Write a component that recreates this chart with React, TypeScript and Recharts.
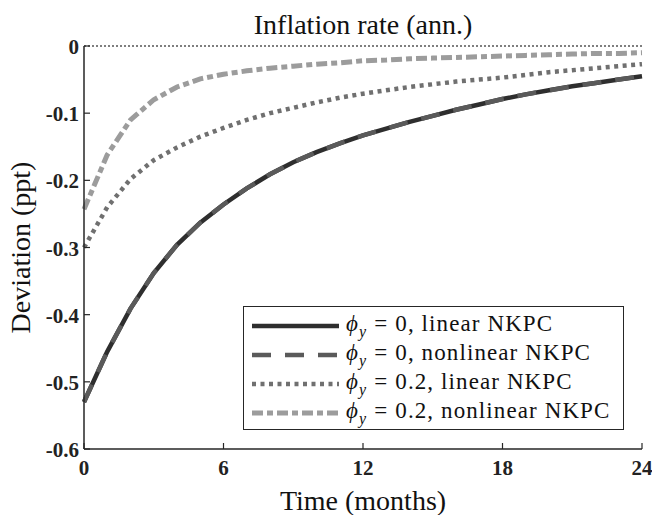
import { LineChart, Line, XAxis, YAxis, ReferenceLine, Legend, Label } from 'recharts';

// months after the shock
const months = [0, 1, 2, 3, 4, 5, 6, 7, 8, 9, 10, 11, 12, 13, 14, 15, 16, 17, 18, 19, 20, 21, 22, 23, 24];

// inflation deviation (ppt)
const phi0Linear = [
  -0.53, -0.455, -0.391, -0.338, -0.296, -0.263, -0.236, -0.212, -0.191, -0.173, -0.158, -0.145, -0.133,
  -0.123, -0.113, -0.104, -0.095, -0.087, -0.079, -0.072, -0.066, -0.06, -0.055, -0.05, -0.045,
];
const phi0Nonlinear = [
  -0.53, -0.455, -0.391, -0.338, -0.296, -0.263, -0.236, -0.212, -0.191, -0.173, -0.158, -0.145, -0.133,
  -0.123, -0.113, -0.104, -0.095, -0.087, -0.079, -0.072, -0.066, -0.06, -0.055, -0.05, -0.045,
];
const phi02Linear = [
  -0.3, -0.24, -0.198, -0.17, -0.151, -0.135, -0.122, -0.11, -0.1, -0.092, -0.084, -0.077, -0.071,
  -0.066, -0.061, -0.057, -0.053, -0.05, -0.047, -0.043, -0.039, -0.036, -0.033, -0.03, -0.027,
];
const phi02Nonlinear = [
  -0.243, -0.162, -0.11, -0.08, -0.061, -0.049, -0.042, -0.037, -0.033, -0.03, -0.027, -0.025, -0.022,
  -0.021, -0.019, -0.018, -0.017, -0.016, -0.015, -0.014, -0.013, -0.012, -0.011, -0.011, -0.01,
];

const xTicks = [0, 6, 12, 18, 24];
const yTicks = [-0.6, -0.5, -0.4, -0.3, -0.2, -0.1, 0];
const yTickLabels = ['-0.6', '-0.5', '-0.4', '-0.3', '-0.2', '-0.1', '0'];

const data = months.map((t, i) => ({
  t,
  phi0Linear: phi0Linear[i],
  phi0Nonlinear: phi0Nonlinear[i],
  phi02Linear: phi02Linear[i],
  phi02Nonlinear: phi02Nonlinear[i],
}));

const SERIF = '"Liberation Serif", "Times New Roman", serif';
const AXIS = '#262626';

// the two phi=0.2 lines are bound to the top/right axes so those axes get drawn (same domains)
const series = [
  { key: 'phi0Linear', phi: '0', kind: 'linear', color: '#2e2e2e', width: 4.5, dash: undefined, xId: 0, yId: 0 },
  { key: 'phi0Nonlinear', phi: '0', kind: 'nonlinear', color: '#5a5a5a', width: 4.5, dash: '19 14', xId: 0, yId: 0 },
  { key: 'phi02Linear', phi: '0.2', kind: 'linear', color: '#707070', width: 4.5, dash: '4 4.5', xId: 0, yId: 'right' },
  { key: 'phi02Nonlinear', phi: '0.2', kind: 'nonlinear', color: '#9c9c9c', width: 5, dash: '11 4 6 4', xId: 'top', yId: 0 },
];

const fmtY = (v: number) => yTickLabels[yTicks.findIndex((t) => Math.abs(t - v) < 1e-9)] ?? String(v);

const LeftTick = (props: any) => {
  const { x, y, payload } = props;
  return (
    <g>
      <line x1={x} x2={x + 6} y1={y} y2={y} stroke={AXIS} strokeWidth={1.2} />
      <text x={x - 5} y={y + 1} textAnchor="end" dominantBaseline="central" fontFamily={SERIF} fontWeight="bold" fontSize={21} fill="#222">
        {fmtY(payload.value)}
      </text>
    </g>
  );
};

const RightTick = (props: any) => {
  const { x, y } = props;
  return <line x1={x} x2={x - 6} y1={y} y2={y} stroke={AXIS} strokeWidth={1.2} />;
};

const BottomTick = (props: any) => {
  const { x, y, payload } = props;
  return (
    <g>
      <line x1={x} x2={x} y1={y} y2={y - 6} stroke={AXIS} strokeWidth={1.2} />
      <text x={x} y={y + 19} textAnchor="middle" dominantBaseline="central" fontFamily={SERIF} fontWeight="bold" fontSize={21} fill="#222">
        {payload.value}
      </text>
    </g>
  );
};

const TopTick = (props: any) => {
  const { x, y } = props;
  return <line x1={x} x2={x} y1={y} y2={y + 6} stroke={AXIS} strokeWidth={1.2} />;
};

const renderLegend = () => (
  <div
    style={{
      boxSizing: 'border-box',
      width: '100%',
      height: '100%',
      border: `1.5px solid ${AXIS}`,
      background: '#fff',
      padding: '4px 0 0 8px',
      fontFamily: SERIF,
      fontSize: 23,
      letterSpacing: 1.1,
      color: '#111',
    }}
  >
    {series.map((s) => (
      <div key={s.key} style={{ display: 'flex', alignItems: 'center', height: 29 }}>
        <svg width={88} height={10} style={{ flex: 'none' }}>
          <line x1={0} x2={87} y1={5} y2={5} stroke={s.color} strokeWidth={s.width} strokeDasharray={s.dash} />
        </svg>
        <span style={{ marginLeft: 6, whiteSpace: 'nowrap' }}>
          <i>ϕ</i>
          <sub style={{ fontSize: 16 }}>
            <i>y</i>
          </sub>
          <span style={{ margin: '0 7px' }}>=</span>
          {s.phi}, {s.kind} NKPC
        </span>
      </div>
    ))}
  </div>
);

export default function App() {
  return (
    <div style={{ position: 'absolute', left: 0, top: 0, background: '#fff' }}>
      <LineChart width={652} height={515} data={data} margin={{ top: 46, right: 10, left: 0, bottom: 0 }}>
        <XAxis
          dataKey="t"
          type="number"
          domain={[0, 24]}
          ticks={xTicks}
          height={66}
          tickSize={0}
          tickMargin={0}
          tickLine={false}
          tick={<BottomTick />}
          axisLine={{ stroke: AXIS, strokeWidth: 1.5 }}
        >
          <Label value="Time (months)" position="center" dy={18} fontFamily={SERIF} fontSize={28} fill="#111" />
        </XAxis>
        <XAxis
          xAxisId="top"
          orientation="top"
          dataKey="t"
          type="number"
          domain={[0, 24]}
          ticks={xTicks}
          height={0}
          tickSize={0}
          tickMargin={0}
          tickLine={false}
          tick={<TopTick />}
          axisLine={false}
        />
        <YAxis
          type="number"
          domain={[-0.6, 0]}
          ticks={yTicks}
          width={84}
          tickSize={0}
          tickMargin={0}
          tickLine={false}
          tick={<LeftTick />}
          axisLine={{ stroke: AXIS, strokeWidth: 1.5 }}
        >
          <Label value="Deviation (ppt)" position="center" angle={-90} dx={-22} fontFamily={SERIF} fontSize={28} fill="#111" />
        </YAxis>
        <YAxis
          yAxisId="right"
          orientation="right"
          type="number"
          domain={[-0.6, 0]}
          ticks={yTicks}
          width={0}
          tickSize={0}
          tickMargin={0}
          tickLine={false}
          tick={<RightTick />}
          axisLine={{ stroke: AXIS, strokeWidth: 1.5 }}
        />
        {series.map((s) => (
          <Line
            key={s.key}
            xAxisId={s.xId}
            yAxisId={s.yId}
            type="linear"
            dataKey={s.key}
            stroke={s.color}
            strokeWidth={s.width}
            strokeDasharray={s.dash}
            dot={false}
            activeDot={false}
            isAnimationActive={false}
          />
        ))}
        <ReferenceLine y={0} stroke="#000" strokeWidth={1.2} strokeDasharray="2 2">
          <Label value="Inflation rate (ann.)" position="top" offset={12} fontFamily={SERIF} fontSize={28} fill="#111" />
        </ReferenceLine>
        <Legend
          layout="horizontal"
          verticalAlign="middle"
          align="center"
          content={renderLegend}
          wrapperStyle={{ position: 'absolute', left: 243, top: 306, width: 381, height: 124 }}
        />
      </LineChart>
    </div>
  );
}
